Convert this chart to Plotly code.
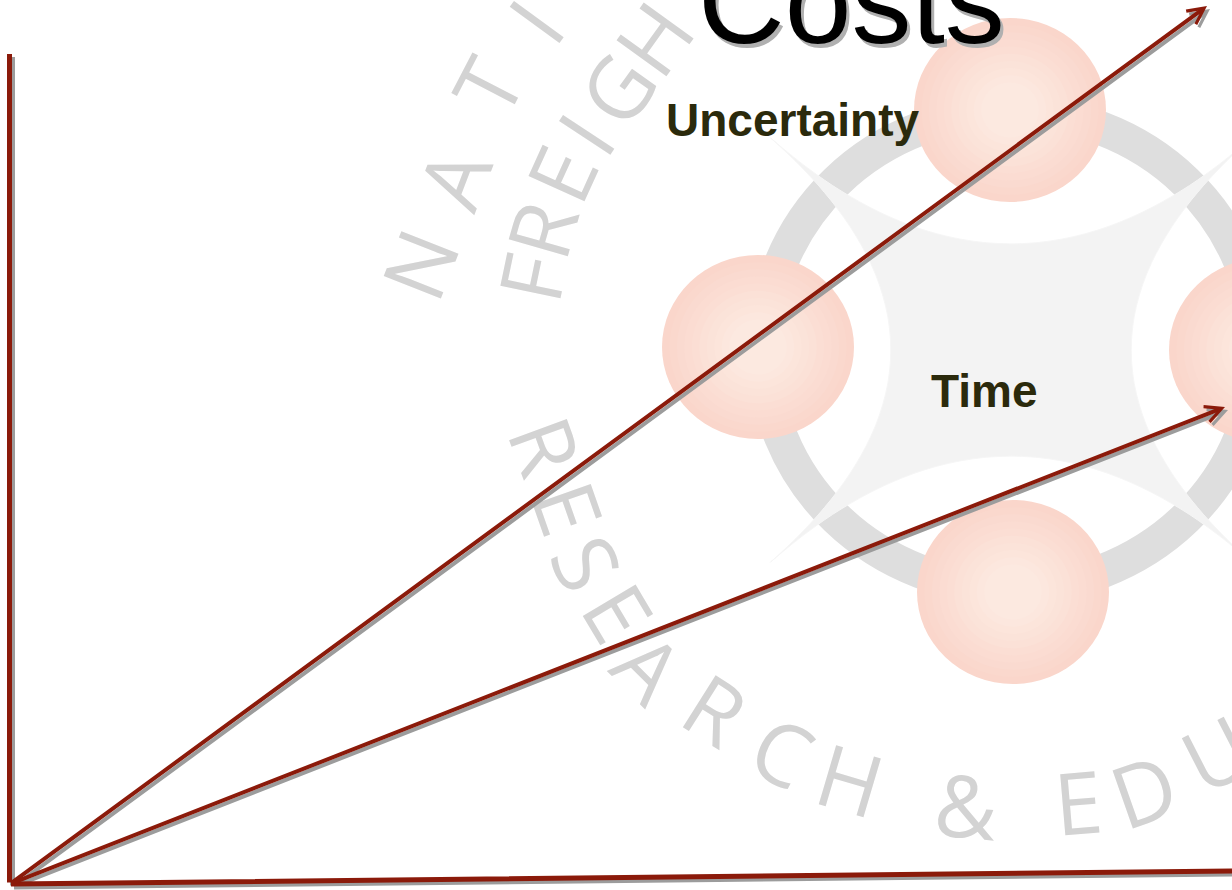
import math
import plotly.graph_objects as go

# ---------------- data ----------------
line_names = ["Costs axis", "Base axis", "Uncertainty", "Time"]
line_x0 = [9.5, 9.5, 10, 10]
line_y0 = [884, 884, 884, 884]
line_x1 = [9.5, 1232, 1207, 1225]
line_y1 = [54, 871, 6, 407]
line_heads = [0, 0, 5, 5]

label_texts = ["Costs", "Uncertainty", "Time"]

# watermark letters (light gray logo text)
wm_outer = ["N", "A", "T", "I"]
wm_outer_x = [418, 452, 486, 534]
wm_outer_y = [264, 178, 86, 20]

wm_top = ["F", "R", "E", "I", "G", "H"]
wm_top_x = [530, 540, 560, 584, 616, 652]
wm_top_y = [278, 230, 173, 133, 88, 38]

wm_bottom = ["R", "E", "S", "E", "A", "R", "C", "H", "&", "E", "D", "U"]
wm_bottom_x = [547, 570, 588, 620, 650, 716, 783, 850, 966, 1078, 1143, 1215]
wm_bottom_y = [445, 508, 562, 612, 666, 708, 750, 778, 804, 800, 789, 752]

# logo blobs
blob_x = [1010, 758, 1013, 1265]
blob_y = [110, 347, 592, 350]

# ---------------- style / layout constants ----------------
W, H = 1232, 890
RED = "#8B1A0A"
SHADOW = "#9C9C9C"
WM_COLOR = "#D3D3D3"
LABEL_COLOR = "#2B2A0C"
LOGO_CX, LOGO_CY = 1011, 350

fig = go.Figure()
# invisible trace anchoring the axes
fig.add_trace(go.Scatter(x=line_x0 + line_x1, y=line_y0 + line_y1, mode="markers",
                         marker=dict(opacity=0), hoverinfo="skip", showlegend=False))

shapes = []
# gray ring
ring_rx, ring_ry = 247, 238
shapes.append(dict(type="circle", xref="x", yref="y",
                   x0=LOGO_CX - ring_rx, x1=LOGO_CX + ring_rx,
                   y0=LOGO_CY - ring_ry, y1=LOGO_CY + ring_ry,
                   line=dict(color="#DEDEDE", width=34), fillcolor="rgba(0,0,0,0)"))
# central four-point star
pts = []
n = 240
ax_s, ay_s = 340, 300
for k in range(n + 1):
    t = 2 * math.pi * k / n
    c, s = math.cos(t), math.sin(t)
    u = math.copysign(abs(c) ** 4, c)
    v = math.copysign(abs(s) ** 4, s)
    X = (u - v) / math.sqrt(2)
    Y = (u + v) / math.sqrt(2)
    pts.append((LOGO_CX + ax_s * X, LOGO_CY + ay_s * Y))
path = "M " + " L ".join(f"{p[0]:.1f},{p[1]:.1f}" for p in pts) + " Z"
shapes.append(dict(type="path", xref="x", yref="y", path=path,
                   fillcolor="#F3F3F3", line=dict(color="#F6F6F6", width=1)))
# pink blobs with soft radial gradient (rim slightly deeper than centre)
blob_rx, blob_ry = 96, 92
steps = 10
rim = (250, 214, 203)
core = (252, 233, 224)
for bx, by in zip(blob_x, blob_y):
    for i in range(steps):
        f = i / (steps - 1)
        scale = 1.0 - 0.7 * f
        col = tuple(round(rim[j] + (core[j] - rim[j]) * f) for j in range(3))
        shapes.append(dict(type="circle", xref="x", yref="y",
                           x0=bx - blob_rx * scale, x1=bx + blob_rx * scale,
                           y0=by - blob_ry * scale, y1=by + blob_ry * scale,
                           line=dict(width=0), fillcolor=f"rgb{col}"))

annotations = []


def seq_angles(xs, ys):
    angs = []
    m = len(xs)
    for i in range(m):
        a = max(i - 1, 0)
        b = min(i + 1, m - 1)
        angs.append(math.degrees(math.atan2(ys[b] - ys[a], xs[b] - xs[a])))
    return angs


for letters, xs, ys in [(wm_outer, wm_outer_x, wm_outer_y),
                        (wm_top, wm_top_x, wm_top_y),
                        (wm_bottom, wm_bottom_x, wm_bottom_y)]:
    angs = seq_angles(xs, ys)
    for ch, x, y, a in zip(letters, xs, ys, angs):
        annotations.append(dict(x=x, y=y, xref="x", yref="y", text=ch, showarrow=False,
                                textangle=a, xanchor="center", yanchor="middle",
                                font=dict(family="Open Sans, DejaVu Sans", size=86, color=WM_COLOR)))

# lines with drop shadows (shadow first, red on top)
for color, xs_, ys_ in [(SHADOW, 3, -3), (RED, 0, 0)]:
    for name, x0, y0, x1, y1, head in zip(line_names, line_x0, line_y0, line_x1, line_y1, line_heads):
        annotations.append(dict(x=x1, y=y1, ax=x0, ay=y0, xref="x", yref="y", axref="x", ayref="y",
                                text="", showarrow=True, arrowhead=head, arrowsize=0.8,
                                arrowwidth=5 if head == 0 else 4, arrowcolor=color,
                                standoff=0, startstandoff=0, xshift=xs_, yshift=ys_))

# labels
label_pos = [(851, 0.5), (792, 120), (984, 391)]
# Costs with shadow
annotations.append(dict(x=label_pos[0][0], y=label_pos[0][1], xref="x", yref="y", text=label_texts[0],
                        showarrow=False, xanchor="center", yanchor="middle", xshift=3, yshift=-4,
                        font=dict(family="Liberation Sans, Arial", size=120, color="#B0B0B0")))
annotations.append(dict(x=label_pos[0][0], y=label_pos[0][1], xref="x", yref="y", text=label_texts[0],
                        showarrow=False, xanchor="center", yanchor="middle",
                        font=dict(family="Liberation Sans, Arial", size=120, color="#000000")))
for txt, (lx, ly) in zip(label_texts[1:], label_pos[1:]):
    annotations.append(dict(x=lx, y=ly, xref="x", yref="y", text=f"<b>{txt}</b>",
                            showarrow=False, xanchor="center", yanchor="middle",
                            font=dict(family="Liberation Sans, Arial", size=46, color=LABEL_COLOR)))

fig.update_layout(
    width=W, height=H,
    margin=dict(l=0, r=0, t=0, b=0, pad=0),
    paper_bgcolor="white", plot_bgcolor="white",
    xaxis=dict(range=[0, W], visible=False, fixedrange=True),
    yaxis=dict(range=[H, 0], visible=False, fixedrange=True),
    shapes=shapes,
    annotations=annotations,
    showlegend=False,
)

fig.write_html("out.html", config={"displayModeBar": False},
               post_script="document.body.style.margin='0';document.body.style.overflow='hidden';")
